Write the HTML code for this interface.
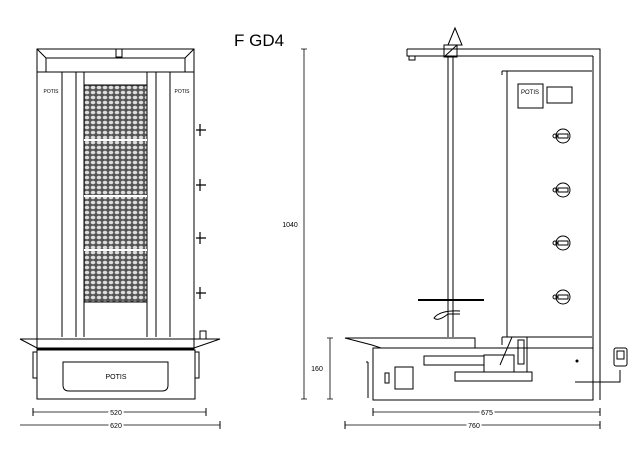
<!DOCTYPE html>
<html><head><style>body{margin:0;background:#fff}svg{display:block}text{font-family:"Liberation Sans",sans-serif}</style></head><body>
<svg width="641" height="471" viewBox="0 0 641 471" xmlns="http://www.w3.org/2000/svg">
<defs>
<pattern id="mesh" width="6" height="5" patternUnits="userSpaceOnUse">
<rect width="6" height="5" fill="#555"/><ellipse cx="3" cy="2.5" rx="2.3" ry="1.8" fill="#ddd"/>
</pattern>
<marker id="a" markerWidth="6" markerHeight="6" refX="5" refY="3" orient="auto"><path d="M0,1 L6,3 L0,5z" fill="#000"/></marker>
</defs>
<g fill="none" stroke="#000" stroke-width="1">
<!-- LEFT VIEW -->
<rect x="37" y="49" width="157" height="300"/>
<path d="M37,49 L46,58 L185,58 L194,49 M46,58 L46,72 M185,58 L185,72 M37,72 L194,72"/>
<rect x="116" y="49" width="6" height="8"/>
<path d="M62,72V337 M76,72V337 M84,72V337 M147,72V337 M156,72V337 M170,72V337"/>
<rect x="84" y="85" width="63" height="217" fill="url(#mesh)"/>
<path d="M84,140H147 M84,196H147 M84,250H147" stroke="#fff" stroke-width="2"/>
<g stroke-width="1.2">
<path d="M196,130h10 M200,124v12 M196,185h10 M200,179v12 M196,238h10 M200,232v12 M196,293h10 M200,287v12"/>
</g>
<rect x="200" y="331" width="6" height="8"/>
<path d="M20,339 L220,339 L194,348 L37,348 Z"/>
<rect x="37" y="350" width="158" height="49"/>
<rect x="33" y="352" width="4" height="26"/><rect x="195" y="352" width="4" height="26"/>
<path d="M63,362 H168 V385 Q168,391 162,391 H69 Q63,391 63,385 Z"/>
<path d="M33,412H206 M20,425H220" stroke-width="0.8"/>
<path d="M33,408v8 M206,408v8 M220,421v8" />
<!-- RIGHT VIEW -->
<path d="M304,49V399 M301,49h6 M301,399h6" stroke-width="0.8"/>
<path d="M407,49H600V400 M407,49V56H593 M593,56V400" />
<rect x="409" y="56" width="6" height="4"/>
<path d="M448,45L455,28L462,45Z"/>
<rect x="444" y="45" width="13" height="12" transform="rotate(0)"/>
<path d="M444,57L457,45"/>
<path d="M448,57V337 M453,57V337"/>
<path d="M502,71H592 M507,71V337H592 M502,71v4"/>
<rect x="518" y="84" width="25" height="24"/>
<rect x="547" y="87" width="25" height="16"/>
<g>
<circle cx="563" cy="136" r="7"/><rect x="558" y="134" width="10" height="4"/><circle cx="555" cy="136" r="2"/>
<circle cx="563" cy="190" r="7"/><rect x="558" y="188" width="10" height="4"/><circle cx="555" cy="190" r="2"/>
<circle cx="563" cy="243" r="7"/><rect x="558" y="241" width="10" height="4"/><circle cx="555" cy="243" r="2"/>
<circle cx="563" cy="297" r="7"/><rect x="558" y="295" width="10" height="4"/><circle cx="555" cy="297" r="2"/>
</g>
<path d="M418,300H484" stroke-width="2"/>
<path d="M460,311 Q440,310 434,318 Q438,322 448,314 L460,314"/>
<path d="M345,338 L475,338 L475,348 L381,348 L372,345 Z"/>
<rect x="373" y="348" width="220" height="52"/>
<path d="M502,337H592 M502,337V345"/>
<rect x="424" y="356" width="60" height="9"/>
<rect x="484" y="355" width="30" height="17"/>
<rect x="455" y="372" width="77" height="9"/>
<path d="M500,365 L512,337 L527,337 L527,372 L514,372"/>
<rect x="518" y="340" width="6" height="24"/>
<rect x="395" y="367" width="18" height="22"/>
<rect x="385" y="373" width="4" height="10"/>
<path d="M368,362 V398 M366,362h2"/>
<path d="M575,382H620V370"/>
<rect x="614" y="348" width="13" height="18" rx="2"/>
<rect x="617" y="351" width="7" height="8"/>
<path d="M330,338V399 M327,338h6 M327,399h6" stroke-width="0.8"/>
<path d="M373,412H600 M345,425H600" stroke-width="0.8"/>
<path d="M373,408v8 M600,408v8 M345,421v8 M600,421v8"/>
</g>
<circle cx="577" cy="361" r="1.5"/>
<g font-size="7" fill="#000" text-anchor="middle">
<text x="116" y="415" fill="#000" style="paint-order:stroke" stroke="#fff" stroke-width="4">520</text>
<text x="116" y="428" style="paint-order:stroke" stroke="#fff" stroke-width="4">620</text>
<text x="487" y="415" style="paint-order:stroke" stroke="#fff" stroke-width="4">675</text>
<text x="474" y="428" style="paint-order:stroke" stroke="#fff" stroke-width="4">760</text>
<text x="317" y="371">160</text>
<text x="290" y="227">1040</text>
<text x="116" y="379">POTIS</text>
<text x="530" y="94" font-size="6">POTIS</text>
<text x="51" y="93" font-size="5">POTIS</text>
<text x="182" y="93" font-size="5">POTIS</text>
</g>
<text x="234" y="46" font-size="17" fill="#000">F GD4</text>
</svg>
</body></html>
